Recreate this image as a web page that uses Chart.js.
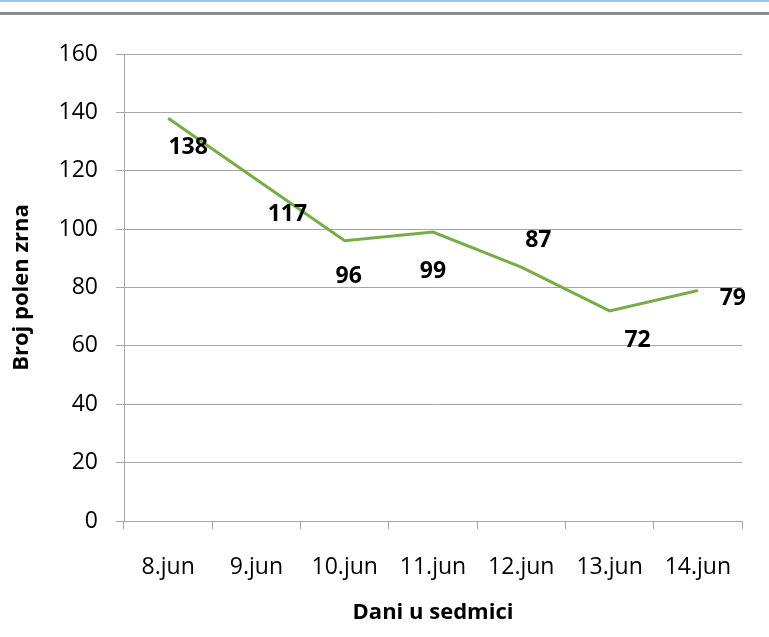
<!DOCTYPE html>
<html>
<head>
<meta charset="utf-8">
<script src="https://cdn.jsdelivr.net/npm/chart.js@4.4.0/dist/chart.umd.min.js"></script>
<style>
  html, body { margin: 0; padding: 0; background: #fff; }
  #wrap { position: relative; width: 769px; height: 637px; }
  #topBlue { position: absolute; left: 0; top: 0; width: 769px; height: 2px; background: #9dc3e6; }
  #topGray { position: absolute; left: 0; top: 12px; width: 769px; height: 3px; background: #8c8c8c; }
  canvas { position: absolute; left: 0; top: 0; }
</style>
</head>
<body>
<div id="wrap">
  <canvas id="pollenChart" width="769" height="637"></canvas>
  <div id="topBlue"></div>
  <div id="topGray"></div>
</div>
<script>
const days = ['8.jun', '9.jun', '10.jun', '11.jun', '12.jun', '13.jun', '14.jun'];
const pollenCounts = [138, 117, 96, 99, 87, 72, 79];
const yTicks = [0, 20, 40, 60, 80, 100, 120, 140, 160];

// where each value label sits relative to its point (dx, dy)
const labelOffsets = [[20, 29], [31, 35], [4, 36], [0, 39], [17, -27], [28, 30], [35, 8]];

const valueLabels = {
    id: 'valueLabels',
    afterDatasetsDraw(chart) {
        const ctx = chart.ctx;
        const meta = chart.getDatasetMeta(0);
        ctx.save();
        ctx.font = 'bold 23px "Open Sans", sans-serif';
        ctx.fillStyle = '#000';
        ctx.textAlign = 'center';
        ctx.textBaseline = 'middle';
        meta.data.forEach((pt, i) => {
            const off = labelOffsets[i];
            ctx.fillText(String(pollenCounts[i]), pt.x + off[0], pt.y + off[1]);
        });
        ctx.restore();
    }
};

const tickFont = { family: '"Open Sans", sans-serif', size: 23 };
const titleFont = { family: '"Open Sans", sans-serif', size: 22, weight: 'bold' };

new Chart(document.getElementById('pollenChart').getContext('2d'), {
    type: 'line',
    data: {
        labels: days,
        datasets: [{
            data: pollenCounts,
            borderColor: '#77ad45',
            borderWidth: 3,
            pointRadius: 0,
            tension: 0,
            fill: false
        }]
    },
    options: {
        responsive: false,
        animation: false,
        layout: { padding: { left: 0, right: 27, top: 54, bottom: 0 } },
        plugins: { legend: { display: false }, tooltip: { enabled: false } },
        scales: {
            x: {
                offset: true,
                grid: { display: true, offset: true, drawOnChartArea: false, tickLength: 8, color: '#a6a6a6' },
                border: { color: '#a6a6a6', width: 1 },
                ticks: { font: tickFont, color: '#000', padding: 25, maxRotation: 0 },
                title: { display: true, text: 'Dani u sedmici', font: titleFont, color: '#000', padding: { top: 0, bottom: 11 } },
                afterFit(scale) { scale.height = 116; }
            },
            y: {
                min: 0,
                max: 160,
                afterBuildTicks(scale) { scale.ticks = yTicks.map(v => ({ value: v })); },
                grid: { color: '#a6a6a6', tickLength: 8 },
                border: { color: '#a6a6a6', width: 1 },
                ticks: { font: tickFont, color: '#000', padding: 18 },
                title: { display: true, text: 'Broj polen zrna', font: titleFont, color: '#000', padding: { top: 9, bottom: 0 } },
                afterFit(scale) { scale.width = 124; }
            }
        }
    },
    plugins: [valueLabels]
});
</script>
</body>
</html>
